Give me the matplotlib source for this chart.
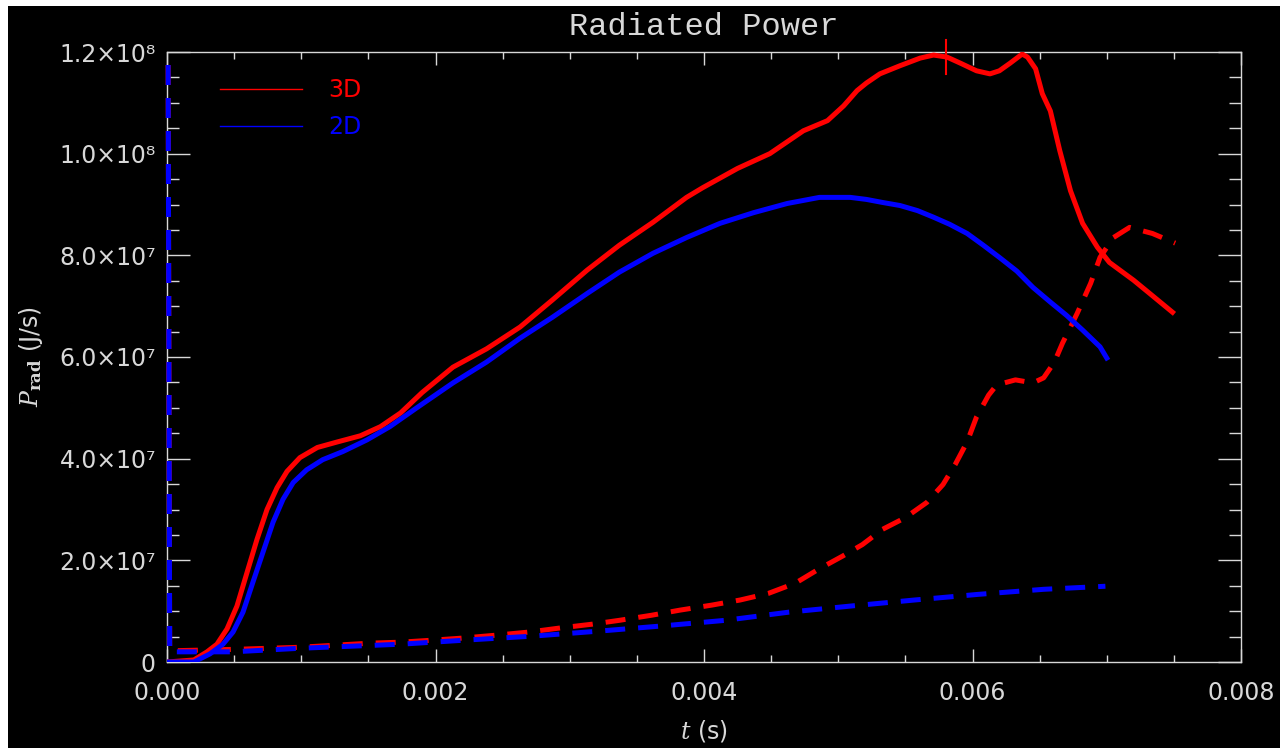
import matplotlib
matplotlib.use("Agg")
import matplotlib.pyplot as plt
from matplotlib.lines import Line2D
from matplotlib.patches import Rectangle
from matplotlib.transforms import Bbox, TransformedBbox
from matplotlib.ticker import FixedLocator, MultipleLocator, FuncFormatter

# radiated power, 3D run (solid = total, dashed = second component)
t_3d = [0.0, 0.0002, 0.000298, 0.000372, 0.000447, 0.000521, 0.000596, 0.00067, 0.000745,
        0.00082, 0.000894, 0.00099, 0.00112, 0.00127, 0.00144, 0.00159, 0.00174, 0.0019,
        0.00213, 0.00238, 0.00263, 0.00287, 0.00313, 0.00337, 0.00362, 0.00387, 0.00399,
        0.00425, 0.00449, 0.00474, 0.00492, 0.00504, 0.00514, 0.00521, 0.00531, 0.00546,
        0.00561, 0.00571, 0.00581, 0.00591, 0.00603, 0.00613, 0.0062, 0.00628, 0.00637,
        0.00641, 0.00647, 0.00652, 0.00658, 0.00665, 0.00673, 0.00682, 0.00693, 0.00702,
        0.0072, 0.00732, 0.00749]
p_3d = [0.0, 0.04e7, 0.20e7, 0.35e7, 0.65e7, 1.10e7, 1.76e7, 2.41e7, 3.0e7,
        3.43e7, 3.75e7, 4.02e7, 4.22e7, 4.33e7, 4.45e7, 4.63e7, 4.9e7, 5.3e7,
        5.8e7, 6.16e7, 6.59e7, 7.12e7, 7.71e7, 8.2e7, 8.65e7, 9.14e7, 9.33e7,
        9.71e7, 10.0e7, 10.45e7, 10.65e7, 10.94e7, 11.24e7, 11.39e7, 11.57e7, 11.73e7,
        11.88e7, 11.94e7, 11.9e7, 11.78e7, 11.63e7, 11.57e7, 11.63e7, 11.78e7, 11.96e7,
        11.9e7, 11.67e7, 11.18e7, 10.84e7, 10.06e7, 9.27e7, 8.63e7, 8.16e7, 7.86e7,
        7.51e7, 7.25e7, 6.88e7]

t_3d_dash = [0.0, 0.00002, 0.00052, 0.00099, 0.00151, 0.00174, 0.00198, 0.0022, 0.00246,
             0.0027, 0.00293, 0.00317, 0.00337, 0.00361, 0.00382, 0.00406, 0.00427,
             0.00448, 0.00468, 0.00485, 0.00503, 0.00518, 0.00533, 0.0055, 0.00566,
             0.00578, 0.00587, 0.00596, 0.00603, 0.00612, 0.00618, 0.00632, 0.00645,
             0.00653, 0.00661, 0.00667, 0.00678, 0.00688, 0.00695, 0.00705, 0.00717,
             0.00734, 0.00751]
p_3d_dash = [2.0e8, 2.2e6, 2.5e6, 2.9e6, 3.7e6, 3.9e6, 4.3e6, 4.7e6, 5.3e6,
             5.9e6, 6.7e6, 7.45e6, 8.2e6, 9.2e6, 10.2e6, 11.2e6, 12.2e6,
             13.5e6, 15.5e6, 18.2e6, 20.8e6, 23.1e6, 26.1e6, 28.4e6, 31.4e6,
             34.9e6, 38.8e6, 43.3e6, 48.2e6, 52.5e6, 54.5e6, 55.5e6, 54.9e6,
             55.9e6, 59.0e6, 62.7e6, 68.6e6, 74.5e6, 79.6e6, 83.5e6, 85.5e6,
             84.3e6, 82.4e6]

# radiated power, 2D run
t_2d = [0.0, 0.0002, 0.00032, 0.000417, 0.000492, 0.000566, 0.00064, 0.000715, 0.00079,
        0.000864, 0.00094, 0.00104, 0.00116, 0.00131, 0.00149, 0.00166, 0.00186, 0.00213,
        0.00238, 0.00263, 0.00287, 0.00313, 0.00337, 0.00362, 0.00387, 0.00412, 0.00437,
        0.00462, 0.00486, 0.00509, 0.00521, 0.00533, 0.00546, 0.00559, 0.00571, 0.00583,
        0.00596, 0.00608, 0.0062, 0.00633, 0.00645, 0.00658, 0.0067, 0.00682, 0.00695,
        0.007]
p_2d = [0.0, 0.0, 0.16e7, 0.35e7, 0.59e7, 0.98e7, 1.57e7, 2.16e7, 2.75e7,
        3.2e7, 3.53e7, 3.78e7, 3.98e7, 4.14e7, 4.37e7, 4.63e7, 5.0e7, 5.49e7,
        5.9e7, 6.37e7, 6.78e7, 7.25e7, 7.67e7, 8.04e7, 8.35e7, 8.63e7, 8.84e7,
        9.02e7, 9.14e7, 9.14e7, 9.1e7, 9.04e7, 8.98e7, 8.88e7, 8.75e7, 8.61e7,
        8.43e7, 8.2e7, 7.96e7, 7.69e7, 7.37e7, 7.08e7, 6.82e7, 6.53e7, 6.2e7,
        5.98e7]

t_2d_dash = [0.0, 0.00002, 0.00049, 0.00099, 0.00174, 0.00222, 0.00273, 0.00323,
             0.00369, 0.00416, 0.00463, 0.00509, 0.00557, 0.00604, 0.00653, 0.00699]
p_2d_dash = [2.0e8, 2.0e6, 2.0e6, 2.7e6, 3.5e6, 4.3e6, 5.1e6, 6.1e6,
             7.1e6, 8.2e6, 9.8e6, 11.0e6, 12.2e6, 13.3e6, 14.3e6, 14.9e6]

# single-step glitch in the 3D output
glitch_t = [0.0058, 0.0058]
glitch_p = [1.224e8, 1.157e8]

labels = ["3D", "2D"]
colors = ["#ff0000", "#0000ff"]
ytick_vals = [0, 2e7, 4e7, 6e7, 8e7, 1.0e8, 1.2e8]

sup = {"7": "\u2077", "8": "\u2078"}


def ylab(v, pos):
    if v == 0:
        return "0"
    e = len(str(int(v))) - 1
    m = v / 10 ** e
    return "%.1f\u00d710%s" % (m, sup[str(e)])


plt.rcParams["font.family"] = "DejaVu Sans"
plt.rcParams["mathtext.fontset"] = "dejavuserif"
fg = "#d8d8d8"

fig = plt.figure(figsize=(12.8, 7.48), dpi=100)
fig.patch.set_facecolor("white")
fig.add_artist(Rectangle((8 / 1280, 0), 1, 742 / 748, transform=fig.transFigure,
                         facecolor="black", edgecolor="none", zorder=-10))

ax = fig.add_axes([167 / 1280, 1 - 662 / 748, 1074 / 1280, 610 / 748])
ax.set_facecolor("black")

# let the dashed curves run over the left axis line without being cut in half
wide_clip = TransformedBbox(Bbox([[-0.004, 0], [1, 1]]), ax.transAxes)

dash = (0, (4, 2.6))
for t, p, c in [(t_3d_dash, p_3d_dash, colors[0]), (t_2d_dash, p_2d_dash, colors[1])]:
    ln, = ax.plot(t, p, color=c, lw=3.6, ls=dash, zorder=3)
    ln.set_clip_path(None)
    ln.set_clip_box(wide_clip)
ax.plot(t_3d, p_3d, color=colors[0], lw=3.6, solid_joinstyle="round", zorder=3)
ax.plot(t_2d, p_2d, color=colors[1], lw=3.6, solid_joinstyle="round", zorder=3)
ax.plot(glitch_t, glitch_p, color=colors[0], lw=1.5, clip_on=False, zorder=3)

ax.set_xlim(0, 0.008)
ax.set_ylim(0, 1.2e8)

ax.xaxis.set_major_locator(MultipleLocator(0.002))
ax.xaxis.set_minor_locator(MultipleLocator(0.0005))
ax.yaxis.set_major_locator(FixedLocator(ytick_vals))
ax.yaxis.set_minor_locator(MultipleLocator(5e6))
ax.xaxis.set_major_formatter(FuncFormatter(lambda v, p: "%.3f" % v))
ax.yaxis.set_major_formatter(FuncFormatter(ylab))

for s in ax.spines.values():
    s.set_color(fg)
    s.set_linewidth(1.0)
ax.tick_params(which="both", direction="in", top=True, right=True, colors=fg, width=1.0,
               labelsize=17)
ax.tick_params(axis="x", which="major", length=9.4, pad=14)
ax.tick_params(axis="x", which="minor", length=5)
ax.tick_params(axis="y", which="major", length=16.5, pad=8)
ax.tick_params(axis="y", which="minor", length=8.6)

ax.set_title("Radiated Power", color=fg, fontsize=23, family="Liberation Mono", pad=12)
ax.set_xlabel(r"$t$ (s)", color=fg, fontsize=17, labelpad=9)
ax.set_ylabel(r"$P_{\mathbf{rad}}$ (J/s)", color=fg, fontsize=17, labelpad=10)

handles = [Line2D([], [], color=c, lw=1.0) for c in colors]
leg = ax.legend(handles, labels, loc="upper left", bbox_to_anchor=(0.049, 0.957),
                frameon=False, fontsize=17, handlelength=3.5, handletextpad=1.1,
                labelspacing=0.55, borderaxespad=0, borderpad=0, labelcolor=colors)

fig.savefig("out.png", dpi=100, facecolor=fig.get_facecolor())
